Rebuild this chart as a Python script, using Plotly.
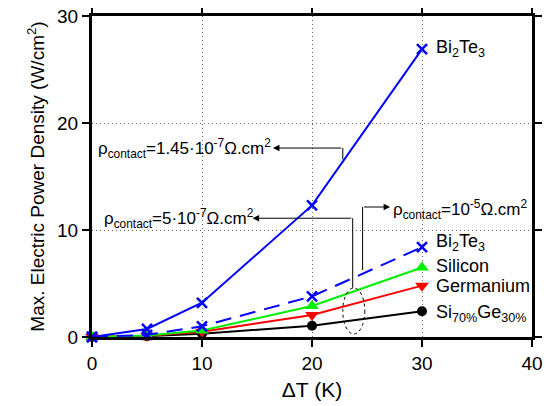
import plotly.graph_objects as go

dT = [0, 5, 10, 20, 30]
bi2te3_low = [0, 0.75, 3.2, 12.3, 26.9]      # rho_contact = 1.45e-7
bi2te3_high = [0, 0.2, 1.0, 3.8, 8.4]        # rho_contact = 1e-5
silicon = [0, 0.15, 0.6, 2.9, 6.5]
germanium = [0, 0.12, 0.5, 2.05, 4.8]
sige = [0, 0.08, 0.3, 1.05, 2.4]

series_labels = ["Bi<sub>2</sub>Te<sub>3</sub>", "Bi<sub>2</sub>Te<sub>3</sub>", "Silicon",
                 "Germanium", "Si<sub>70%</sub>Ge<sub>30%</sub>"]
label_y = [27.0, 8.8, 6.6, 4.8, 2.2]

FONT = "Liberation Sans, Arial, sans-serif"

fig = go.Figure()

def add(y, color, symbol, size, dash="solid", mlw=0):
    fig.add_trace(go.Scatter(
        x=dT, y=y, mode="lines+markers", cliponaxis=False,
        line=dict(color=color, width=2, dash=dash),
        marker=dict(color=color, symbol=symbol, size=size,
                    line=dict(color=color, width=mlw)),
        showlegend=False))

add(sige, "black", "circle", 10)
add(germanium, "#ff0000", "triangle-down", 12)
add(silicon, "#00ee00", "triangle-up", 12)
add(bi2te3_high, "#0000ff", "x-thin", 10, dash="16px,9px", mlw=2.5)
add(bi2te3_low, "#0000ff", "x-thin", 10, mlw=2.5)

for txt, yv in zip(series_labels, label_y):
    fig.add_annotation(x=31.1, y=yv, xref="x", yref="y", text=txt, showarrow=False,
                       xanchor="left", yanchor="middle",
                       font=dict(family=FONT, size=18, color="black"))

annots = [
    dict(text="ρ<sub>contact</sub>=1.45·10<sup>-7</sup>Ω.cm<sup>2</sup>", x=0.4, y=17.66,
         head=(16.45, 17.66), corner=(22.8, 17.66), foot=(22.8, 16.6)),
    dict(text="ρ<sub>contact</sub>=5·10<sup>-7</sup>Ω.cm<sup>2</sup>", x=0.9, y=11.1,
         head=(14.6, 11.1), corner=(23.7, 11.1), foot=(23.7, 4.6)),
    dict(text="ρ<sub>contact</sub>=10<sup>-5</sup>Ω.cm<sup>2</sup>", x=27.2, y=11.9,
         head=(27.1, 12.15), corner=(24.6, 12.15), foot=(24.6, 6.26)),
]
for a in annots:
    fig.add_annotation(x=a["x"], y=a["y"], xref="x", yref="y", text=a["text"], showarrow=False,
                       xanchor="left", yanchor="middle",
                       font=dict(family=FONT, size=17, color="black"))
    fig.add_shape(type="line", xref="x", yref="y", x0=a["foot"][0], y0=a["foot"][1],
                  x1=a["corner"][0], y1=a["corner"][1], line=dict(color="black", width=1))
    fig.add_annotation(x=a["head"][0], y=a["head"][1], ax=a["corner"][0], ay=a["corner"][1],
                       xref="x", yref="y", axref="x", ayref="y", text="", showarrow=True,
                       arrowhead=2, arrowsize=1.3, arrowwidth=1, arrowcolor="black")

# dotted ellipse
fig.add_shape(type="circle", xref="x", yref="y", x0=22.8, x1=24.8, y0=0.28, y1=4.58,
              line=dict(color="black", width=1, dash="dot"))

axis_common = dict(showline=True, linecolor="black", linewidth=3, mirror="ticks",
                   ticks="outside", ticklen=7, tickwidth=2, tickcolor="black",
                   showgrid=True, gridcolor="#666666", griddash="1px,3px", gridwidth=1,
                   zeroline=False, automargin=False, ticklabeloverflow="allow",
                   tickfont=dict(family=FONT, size=19, color="black"))

fig.update_xaxes(range=[0, 40], tickvals=[0, 10, 20, 30, 40],
                 title=dict(text="ΔT (K)", font=dict(family=FONT, size=21, color="black"),
                            standoff=10), **axis_common)
fig.update_yaxes(range=[0, 30], tickvals=[0, 10, 20, 30],
                 title=dict(text="Max. Electric Power Density (W/cm<sup>2</sup>)",
                            font=dict(family=FONT, size=19, color="black"), standoff=8),
                 **axis_common)

fig.update_layout(width=546, height=398, margin=dict(l=84, r=22, t=8, b=69),
                  plot_bgcolor="white", paper_bgcolor="white", showlegend=False)

fig.write_html("out.html")
